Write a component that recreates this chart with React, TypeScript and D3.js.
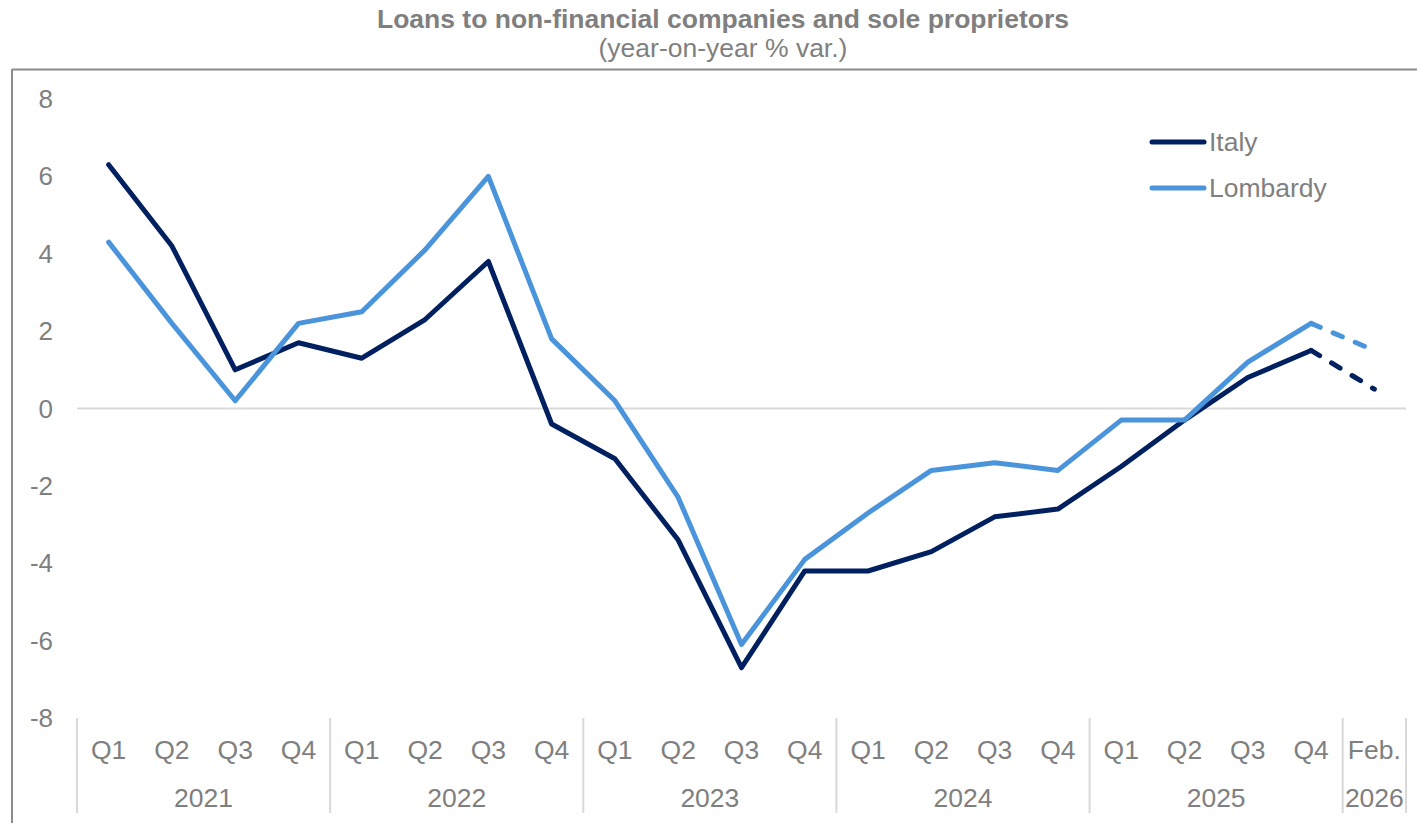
import React from "react";
import * as d3 from "d3";

const quarters = ["Q1", "Q2", "Q3", "Q4"];
const years = ["2021", "2022", "2023", "2024", "2025"];
const lastLabel = "Feb.";
const lastYear = "2026";

const italy = [6.3, 4.2, 1.0, 1.7, 1.3, 2.3, 3.8, -0.4, -1.3, -3.4, -6.7, -4.2, -4.2, -3.7, -2.8, -2.6, -1.5, -0.3, 0.8, 1.5, 0.5];
const lombardy = [4.3, 2.2, 0.2, 2.2, 2.5, 4.1, 6.0, 1.8, 0.2, -2.3, -6.1, -3.9, -2.7, -1.6, -1.4, -1.6, -0.3, -0.3, 1.2, 2.2, 1.5];
const yTicks = [8, 6, 4, 2, 0, -2, -4, -6, -8];

const seriesNames = ["Italy", "Lombardy"];
const seriesColors = ["#002060", "#4A94DC"];

const W = 1417;
const H = 823;
const FONT = "'Liberation Sans', Arial, sans-serif";
const GRAY = "#7f7f7f";
const LIGHT = "#d9d9d9";
const FS = 26.5;

export default function App() {
  const cats: { key: string; label: string; year: string }[] = [];
  years.forEach((y) => quarters.forEach((q) => cats.push({ key: `${y}-${q}`, label: q, year: y })));
  cats.push({ key: `${lastYear}-feb`, label: lastLabel, year: lastYear });

  const x = d3.scaleBand<string>().domain(cats.map((c) => c.key)).range([77, 1406]).padding(0);
  const y = d3.scaleLinear().domain([-8, 8]).range([718, 99]);
  const cx = (i: number) => (x(cats[i].key) as number) + x.bandwidth() / 2;

  const line = d3
    .line<number>()
    .x((_, i) => cx(i))
    .y((d) => y(d));

  const data = [italy, lombardy];
  const nSolid = cats.length - 1;

  const yearGroups = [...years, lastYear].map((yr) => {
    const idx = cats.map((c, i) => (c.year === yr ? i : -1)).filter((i) => i >= 0);
    const x0 = x(cats[idx[0]].key) as number;
    const x1 = (x(cats[idx[idx.length - 1]].key) as number) + x.bandwidth();
    return { yr, x0, x1 };
  });
  const seps = [yearGroups[0].x0, ...yearGroups.map((g) => g.x1)];

  return (
    <div style={{ position: "absolute", left: 0, top: 0 }}>
      <svg width={W} height={H} style={{ display: "block", fontFamily: FONT }}>
        <rect width={W} height={H} fill="#fff" />
        <text x={723} y={28} textAnchor="middle" fontSize={26.5} fontWeight="bold" fill={GRAY}>
          Loans to non-financial companies and sole proprietors
        </text>
        <text x={723} y={57} textAnchor="middle" fontSize={26.5} fill={GRAY}>
          (year-on-year % var.)
        </text>
        <line x1={12} x2={W} y1={69.5} y2={69.5} stroke="#8c8c8c" strokeWidth={2} />
        <line x1={12} x2={12} y1={69} y2={H} stroke="#8c8c8c" strokeWidth={2} />

        {yTicks.map((t) => (
          <text key={t} x={53} y={y(t)} dy="0.35em" textAnchor="end" fontSize={26} fill={GRAY}>
            {t}
          </text>
        ))}

        <line x1={77} x2={1406} y1={y(0)} y2={y(0)} stroke={LIGHT} strokeWidth={2} />

        {seps.map((s, i) => (
          <line key={i} x1={s} x2={s} y1={718} y2={813} stroke={LIGHT} strokeWidth={2} />
        ))}
        {cats.map((c, i) => (
          <text key={c.key} x={cx(i)} y={759} textAnchor="middle" fontSize={FS} fill={GRAY}>
            {c.label}
          </text>
        ))}
        {yearGroups.map((g) => (
          <text key={g.yr} x={(g.x0 + g.x1) / 2} y={807} textAnchor="middle" fontSize={FS} fill={GRAY}>
            {g.yr}
          </text>
        ))}

        {data.map((vals, si) => {
          const solidPath = line(vals.slice(0, nSolid)) as string;
          const dashVals = vals.slice(nSolid - 1);
          const dashPath = d3
            .line<number>()
            .x((_, i) => cx(nSolid - 1 + i))
            .y((d) => y(d))(dashVals) as string;
          return (
            <g key={si}>
              <path d={solidPath} fill="none" stroke={seriesColors[si]} strokeWidth={5} strokeLinejoin="round" strokeLinecap="round" />
              <path d={dashPath} fill="none" stroke={seriesColors[si]} strokeWidth={5} strokeLinecap="round" strokeDasharray="10 14" />
            </g>
          );
        })}

        {seriesNames.map((n, i) => {
          const ly = 142 + i * 46;
          return (
            <g key={n}>
              <line x1={1152} x2={1204} y1={ly} y2={ly} stroke={seriesColors[i]} strokeWidth={5} strokeLinecap="round" />
              <text x={1209} y={ly} dy="0.35em" fontSize={FS} fill={GRAY}>
                {n}
              </text>
            </g>
          );
        })}
      </svg>
    </div>
  );
}
